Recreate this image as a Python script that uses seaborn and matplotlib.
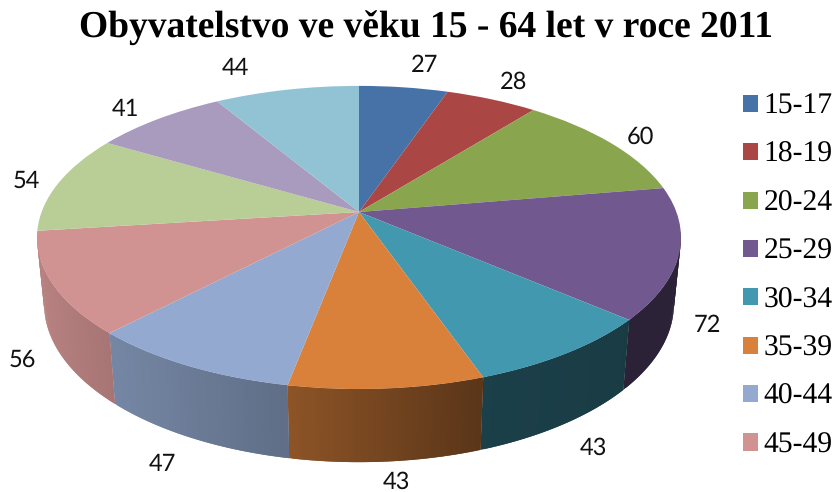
import numpy as np
import seaborn as sns
import matplotlib.pyplot as plt
import matplotlib.transforms as mtransforms

title = "Obyvatelstvo ve věku 15 - 64 let v roce 2011"
age_groups = ["15-17", "18-19", "20-24", "25-29", "30-34", "35-39", "40-44", "45-49", "50-54", "55-59", "60-64"]
people = [27, 28, 60, 72, 43, 43, 47, 56, 54, 41, 44]
slice_colors = ["#4672A8", "#AA4643", "#89A54E", "#71588F", "#4198AF", "#D9813B",
                "#93A9CF", "#D19392", "#B9CD96", "#A99BBD", "#91C3D5"]

# the legend in the original is cut off after 8 entries
legend_rows = 8

# label offset from the rim of its slice, in pixels
label_dx = [21, 22, 30, 28, 27, 10, -26, -30, -32, -33, -51]
label_dy = [-22, -17, -6, 72, 95, 94, 98, 76, -2, -10, -22]

# perspective of the tilted disc, pixels
CX, CY = 359, 212
RX, RY, PERSP = 317.4, 147.3, 0.168


class DiscProjection(mtransforms.Transform):
    input_dims = 2
    output_dims = 2
    is_separable = False
    has_inverse = False

    def transform_non_affine(self, values):
        values = np.asarray(values, dtype=float)
        d = 1 + PERSP * values[:, 1]
        return np.column_stack([CX + RX * values[:, 0] / d, CY - RY * values[:, 1] / d])


def bottom_rim(pts):
    return np.column_stack([CX + 0.978 * (pts[:, 0] - CX), CY + 65.3 + 1.044 * (pts[:, 1] - CY)])


def wall_shade(x):
    # side of the pie gets darker to the right
    return np.interp(x, [40, 110, 290, 480, 680], [0.88, 0.8, 0.65, 0.42, 0.38])


sns.set_theme(style="white")
plt.rcParams['font.family'] = ['Liberation Serif', 'DejaVu Serif']
plt.rcParams['text.hinting'] = 'no_hinting'

fig, ax = plt.subplots(figsize=(8.35, 4.92), dpi=100)
fig.subplots_adjust(left=0, right=1, top=1, bottom=0)

wedges, _ = ax.pie(people, colors=slice_colors, startangle=90, counterclock=False,
                   wedgeprops={'linewidth': 0})

proj = DiscProjection()
for i, w in enumerate(wedges):
    w.set_transform(proj + ax.transData)
    w.set_clip_on(False)
    w.set_zorder(3)

    t = np.radians(np.linspace(w.theta1, w.theta2, 60))
    t = t[np.sin(t) < -0.12]
    if len(t) > 1:
        top = proj.transform_non_affine(np.column_stack([np.cos(t), np.sin(t)]))
        bottom = bottom_rim(top)
        base = np.array(sns.color_palette([slice_colors[i]])[0])
        # strips overlap so no white seams show between them
        for j in range(len(t) - 1):
            quad = np.vstack([top[j:j + 3], bottom[j:j + 3][::-1]])
            shade = wall_shade(quad[:, 0].mean())
            ax.fill(quad[:, 0], quad[:, 1], color=base * shade, lw=0, zorder=1 + i * 0.01)

    mid = np.radians((w.theta1 + w.theta2) / 2)
    anchor = proj.transform_non_affine(np.array([[np.cos(mid), np.sin(mid)]]))[0]
    ax.text(anchor[0] + label_dx[i], anchor[1] + label_dy[i], str(people[i]),
            family='Lato', fontsize=17, color='#111111', ha='center', va='center', zorder=4)

ax.set_aspect('auto')
ax.set_xlim(0, 835)
ax.set_ylim(492, 0)
ax.axis('off')

ax.text(426, 29, title, fontsize=27, fontweight='bold', color='black', ha='center', va='center')

ax.legend(wedges[:legend_rows], age_groups[:legend_rows], loc='upper left',
          bbox_to_anchor=(743 / 835, 1 - 93 / 492), frameon=False, fontsize=21.3,
          handlelength=0.51, handleheight=0.51, handletextpad=0.18,
          labelspacing=0.716, borderpad=0, borderaxespad=0, labelcolor='black')

plt.savefig("out.png", dpi=100)
